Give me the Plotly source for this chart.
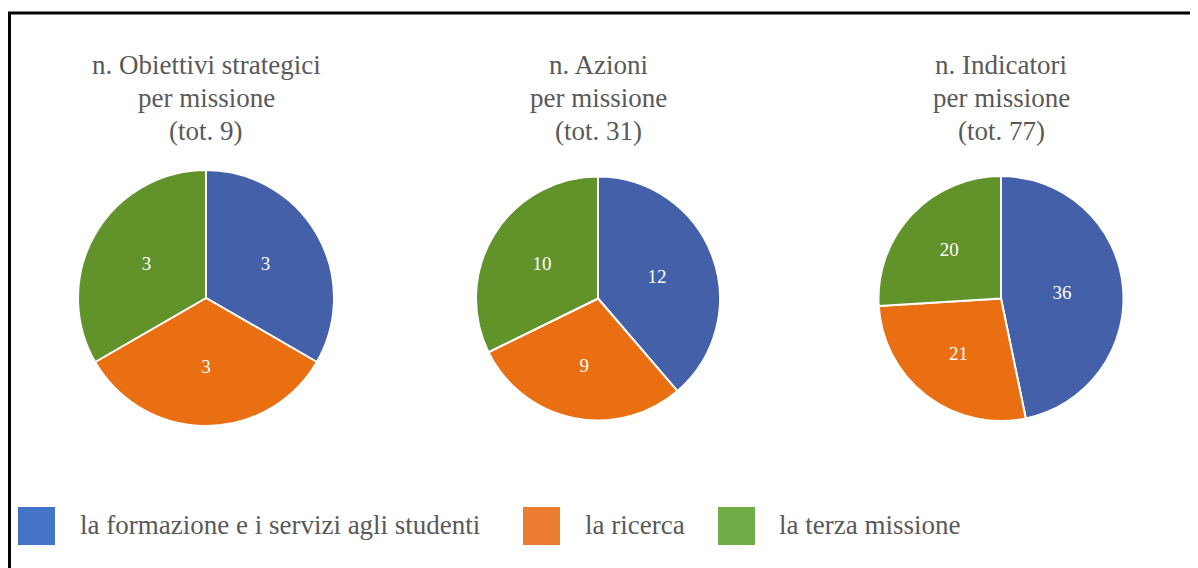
import plotly.graph_objects as go

categories = ["la formazione e i servizi agli studenti", "la ricerca", "la terza missione"]
obiettivi = [3, 3, 3]
azioni = [12, 9, 10]
indicatori = [36, 21, 20]
titles = [
    ["n. Obiettivi strategici", "per missione", "(tot. 9)"],
    ["n. Azioni", "per missione", "(tot. 31)"],
    ["n. Indicatori", "per missione", "(tot. 77)"],
]
series = [obiettivi, azioni, indicatori]

OFF = 8  # page body margin
W, H = 1198 - OFF, 568 - OFF
slice_colors = ["#4360A9", "#E96F12", "#62932A"]
legend_colors = ["#4472C4", "#ED7D31", "#70AD47"]
FONT = "'Liberation Serif', 'Times New Roman', Tinos, 'DejaVu Serif', serif"

# pixel boxes (left, top, right, bottom) for each pie, in page coordinates
boxes = [(78, 170, 334, 426), (476, 176, 720, 421), (878, 176, 1124, 421)]
title_cx = [206, 598, 1001]
title_line_y = [65, 98, 131]

def px(x):
    return (x - OFF) / W

def py(y):
    return 1 - (y - OFF) / H

fig = go.Figure()
for vals, (l, t, r, b) in zip(series, boxes):
    fig.add_trace(go.Pie(
        labels=categories, values=vals, sort=False, direction="clockwise", rotation=0,
        marker=dict(colors=slice_colors, line=dict(color="white", width=2)),
        textinfo="value", textposition="inside", insidetextorientation="horizontal",
        textfont=dict(family=FONT, size=19, color="white"),
        domain=dict(x=[px(l), px(r)], y=[py(b), py(t)]),
        showlegend=False, hoverinfo="label+value",
    ))

annotations = []
for lines, cx in zip(titles, title_cx):
    for line, ly in zip(lines, title_line_y):
        annotations.append(dict(
            text=line, x=px(cx), y=py(ly), xref="paper", yref="paper",
            xanchor="center", yanchor="middle", showarrow=False, align="center",
            font=dict(family=FONT, size=27, color="#595959"),
        ))

# manual legend
legend_sq = [(18, 55), (523, 560), (718, 755)]
legend_tx = [78, 583, 777]
shapes = []
for (x0, x1), tx, col, cat in zip(legend_sq, legend_tx, legend_colors, categories):
    shapes.append(dict(type="rect", xref="paper", yref="paper",
                       x0=px(x0), x1=px(x1), y0=py(545), y1=py(507),
                       fillcolor=col, line=dict(width=0)))
    annotations.append(dict(
        text=cat, x=px(tx), y=py(525), xref="paper", yref="paper",
        xanchor="left", yanchor="middle", showarrow=False,
        font=dict(family=FONT, size=27, color="#595959"),
    ))

# frame lines (top and left)
shapes.append(dict(type="line", xref="paper", yref="paper", x0=px(8), x1=1, y0=py(13), y1=py(13),
                   line=dict(color="black", width=3)))
shapes.append(dict(type="line", xref="paper", yref="paper", x0=px(9.5), x1=px(9.5), y0=py(12), y1=0,
                   line=dict(color="black", width=3)))

fig.update_layout(
    width=W, height=H, margin=dict(l=0, r=0, t=0, b=0),
    paper_bgcolor="white", plot_bgcolor="white",
    annotations=annotations, shapes=shapes,
)
fig.write_html("out.html")
